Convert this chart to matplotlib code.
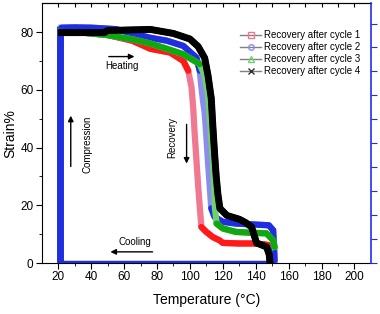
import numpy as np
import matplotlib
matplotlib.use("Agg")
import matplotlib.pyplot as plt
from matplotlib.lines import Line2D

plt.rcParams["font.family"] = ["Liberation Sans", "DejaVu Sans"]

# Recovery curves (temperature in C, strain in %)
t1 = [22, 35, 50, 65, 76, 88, 96, 99, 101, 102, 103, 104, 105, 106, 107, 110, 114, 118, 120, 130, 138.5, 145, 148.3, 148.6]
s1 = [80, 79.8, 79, 77, 74.2, 72.9, 70, 66.6, 60.8, 53.9, 44, 35.5, 27, 19.4, 12.5, 10.8, 9, 7.9, 7, 6.8, 6.8, 6.5, 6.2, 0.5]

t2 = [22, 30, 40, 55, 65, 76, 86, 96, 104, 106, 107, 108, 109, 110, 111, 112, 113, 115, 120, 128, 138, 148, 150.6, 151.5]
s2 = [81.5, 81.6, 81.5, 81, 79.5, 78, 77, 75.2, 71.1, 66.6, 60.8, 56, 52, 44, 35, 27, 19, 16, 14.3, 13.7, 13.4, 13.1, 11.4, 1]

t3 = [22, 35, 49, 65, 76, 86, 96, 106, 109, 111, 112, 113, 114, 115.2, 116.2, 120, 128, 138, 146.6, 150.6, 151.5]
s3 = [80, 79.8, 79, 77.5, 76, 74.2, 72.3, 68.9, 64.8, 58.5, 50.5, 43, 35.5, 19.4, 13.7, 12, 10.8, 10.5, 10.3, 7.9, 5.6]

t4 = [22, 35, 48, 50, 62, 76, 90, 100, 105, 109, 111, 113, 114, 115, 116, 117, 118.2, 122.5, 130, 134, 137.5, 140.5, 146.6, 148.2, 148.6]
s4 = [79.8, 79.8, 79.8, 80.5, 80.7, 80.9, 79.5, 77.6, 75, 71, 65, 57, 47, 38, 30, 24, 19, 16.5, 15.2, 14, 12.5, 7, 5.6, 3, 0.5]

# compression / cooling path of the first loop
tc = [21, 21, 22, 40, 60, 80, 100, 120, 140, 151.5]
sc = [0, 82, 0.4, 0.4, 0.4, 0.4, 0.4, 0.4, 0.4, 0.4]

# where each recovery curve turns steep (start, end index)
steep = [(7, 14), (9, 16), (7, 14), (0, 0)]

labels = ["Recovery after cycle 1", "Recovery after cycle 2",
          "Recovery after cycle 3", "Recovery after cycle 4"]

fig = plt.figure(figsize=(3.8, 3.14), dpi=100)
ax = fig.add_axes([0.11, 0.162, 0.866, 0.828])

# compression and cooling (blue squares)
ax.plot(tc[:2], sc[:2], color="#1f2fe0", lw=5, solid_capstyle="butt", zorder=3)
ax.plot(tc[2:], sc[2:], color="#1f2fe0", lw=2.5, zorder=3)

colors = ["#ff1a1a", "#1f2fe0", "#10a810", "#000000"]
light = ["#f07890", "#8c8cf0", "#70d070", "#303030"]
markers = ["s", "o", "^", "x"]
series = [(t1, s1), (t2, s2), (t3, s3), (t4, s4)]
for (t, s), c, lc, (a, b) in zip(series, colors, light, steep):
    ax.plot(t, s, color=lc, lw=4.5, solid_joinstyle="round", zorder=4)
    if b > a:
        ax.plot(t[:a + 1], s[:a + 1], color=c, lw=4.5, solid_capstyle="round", zorder=4)
        ax.plot(t[b:], s[b:], color=c, lw=4.5, solid_capstyle="round", zorder=4)
    else:
        ax.plot(t, s, color=c, lw=5, solid_joinstyle="round", zorder=4)

# annotations
ax.annotate("", xy=(68, 71.5), xytext=(49, 71.5),
            arrowprops=dict(arrowstyle="-|>", color="black", lw=1, mutation_scale=8))
ax.text(58.5, 68.3, "Heating", fontsize=7, ha="center", va="center")
ax.annotate("", xy=(27.6, 52), xytext=(27.6, 32.5),
            arrowprops=dict(arrowstyle="-|>", color="black", lw=1, mutation_scale=8))
ax.text(37.5, 41, "Compression", fontsize=7, rotation=90, ha="center", va="center")
ax.annotate("", xy=(98, 33.5), xytext=(98, 49),
            arrowprops=dict(arrowstyle="-|>", color="black", lw=1, mutation_scale=8))
ax.text(89, 43.5, "Recovery", fontsize=7, rotation=90, ha="center", va="center")
ax.annotate("", xy=(50, 3.9), xytext=(79, 3.9),
            arrowprops=dict(arrowstyle="-|>", color="black", lw=1, mutation_scale=8))
ax.text(66.5, 7.4, "Cooling", fontsize=7, ha="center", va="center")

ax.set_xlim(10, 210)
ax.set_ylim(0, 90)
ax.set_xticks(np.arange(20, 201, 20))
ax.set_xticks(np.arange(30, 210, 20), minor=True)
ax.set_yticks(np.arange(0, 81, 20))
ax.set_yticks(np.arange(10, 90, 20), minor=True)
ax.tick_params(which="major", direction="out", length=4, labelsize=8.5, pad=2)
ax.tick_params(which="minor", direction="out", length=2)
ax.spines["right"].set_visible(False)

top = ax.secondary_xaxis("top")
top.set_xticks(np.arange(20, 201, 10))
top.tick_params(direction="in", length=3, labeltop=False)

right = ax.twinx()
right.set_ylim(0, 1.085)
right.set_yticks(np.arange(0, 1.01, 0.1))
right.tick_params(axis="y", colors="#2030ee", direction="out", length=4, labelright=False)
right.spines["right"].set_color("#2030ee")
right.spines["right"].set_linewidth(1.2)
for sp in ["left", "top", "bottom"]:
    right.spines[sp].set_visible(False)

ax.set_xlabel("Temperature (\u00b0C)", fontsize=10, labelpad=7)
ax.set_ylabel("Strain%", fontsize=10, labelpad=2)

handles = [Line2D([], [], color="grey", lw=1, marker=m, ms=4, mfc="none", mec=c)
           for m, c in zip(markers, light)]
ax.legend(handles, labels, loc="upper right", bbox_to_anchor=(0.995, 0.93), frameon=False,
          fontsize=7, handlelength=2.2, handletextpad=0.3, labelspacing=0.2)

fig.savefig("out.png", dpi=100)
